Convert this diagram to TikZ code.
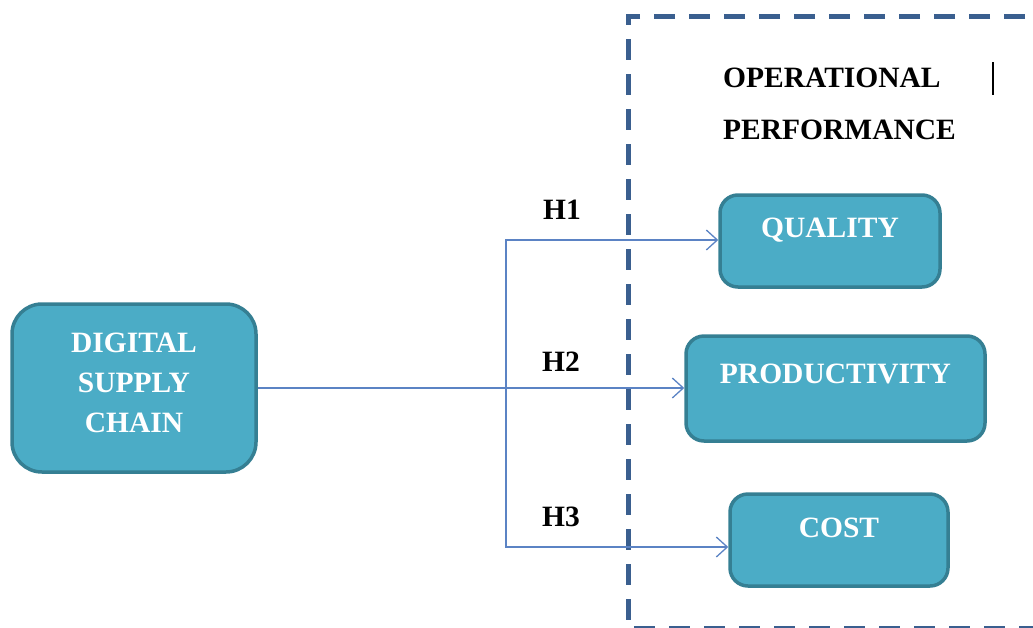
\documentclass[tikz,border=0pt]{standalone}
\usepackage{fontspec}
\setmainfont{Liberation Serif}
\usetikzlibrary{arrows.meta,positioning}

\definecolor{boxfill}{HTML}{4BACC6}
\definecolor{boxline}{HTML}{357F93}
\definecolor{linkblue}{HTML}{5B83C4}
\definecolor{frameblue}{HTML}{3A5F8F}

\tikzset{
  varbox/.style={draw=boxline, fill=boxfill, line width=3.5pt, rounded corners=18pt},
  boxtext/.style={text=white, font=\fontsize{29.5}{40}\selectfont\bfseries, align=center, inner sep=0pt},
  hyplabel/.style={font=\fontsize{29.5}{40}\selectfont\bfseries, inner sep=0pt},
  link/.style={draw=linkblue, line width=1.3pt, -{Straight Barb[length=11pt,width=20pt]}}
}

\begin{document}
\begin{tikzpicture}[x=1pt,y=-1pt]
\useasboundingbox (0,0) rectangle (1033,627);

% FRAME
% operational performance group
\draw[frameblue, line width=5pt, dash pattern=on 21pt off 14pt] (1060,16) -- (628,16) -- (628,628) -- (1060,628);
\node[hyplabel, anchor=west, align=left, font=\fontsize{29.5}{52}\selectfont\bfseries] (opperf) at (723,104) {OPERATIONAL\\PERFORMANCE};
\draw[line width=1.2pt] (993,62) -- (993,95);

% BOXES
% independent variable
\node[varbox, rounded corners=30pt, minimum width=244pt, minimum height=168pt] (dsc) at (134,388) {};
\node[boxtext] (dsctext) at ([yshift=5pt]dsc.center) {DIGITAL\\SUPPLY\\CHAIN};
% dependent variables
\node[varbox, minimum width=220pt, minimum height=92pt] (quality) at (830,241) {};
\node[boxtext] (qualitytext) at ([yshift=11pt]quality.center) {QUALITY};
\node[varbox, minimum width=299pt, minimum height=105pt] (prod) at (835.5,388.5) {};
\node[boxtext] (prodtext) at ([yshift=15pt]prod.center) {PRODUCTIVITY};
\node[varbox, minimum width=218pt, minimum height=92pt] (cost) at (839,540) {};
\node[boxtext] (costtext) at ([yshift=12pt]cost.center) {COST};

% LINKS
\coordinate (split) at (506,388);
\draw[link] (dsc.east) -- (dsc.east -| prod.west);
\draw[link] (split) |- ([yshift=1pt]quality.west);
\draw[link] (split) |- ([yshift=-7pt]cost.west);

% LABELS
\node[hyplabel] (h1) at (562,210) {H1};
\node[hyplabel] (h2) at (561,362) {H2};
\node[hyplabel] (h3) at (561,517) {H3};

\end{tikzpicture}
\end{document}
